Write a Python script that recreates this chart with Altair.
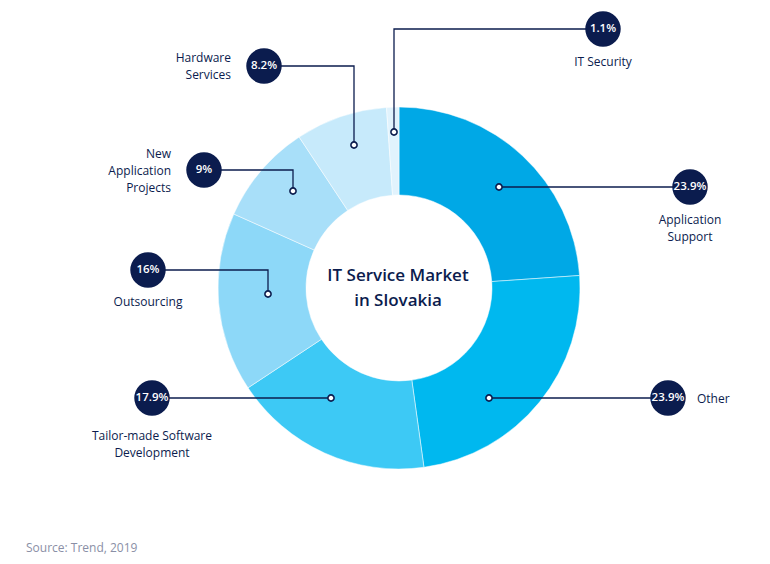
import altair as alt
import pandas as pd

# ---------------- data ----------------
categories = [
    "Application Support",
    "Other",
    "Tailor-made Software Development",
    "Outsourcing",
    "New Application Projects",
    "Hardware Services",
    "IT Security",
]
shares = [23.9, 23.9, 17.9, 16.0, 9.0, 8.2, 1.1]
pct_labels = ["23.9%", "23.9%", "17.9%", "16%", "9%", "8.2%", "1.1%"]
label_lines = [
    ["Application", "Support"],
    ["Other"],
    ["Tailor-made Software", "Development"],
    ["Outsourcing"],
    ["New", "Application", "Projects"],
    ["Hardware", "Services"],
    ["IT Security"],
]
colors = ["#00a8e6", "#00b8ef", "#3dc9f5", "#8dd8f8", "#a8dff9", "#c7eafb", "#e1f3fd"]
title_lines = ["IT Service Market", "in Slovakia"]
source_text = "Source: Trend, 2019"

# ---------------- layout (page pixel coordinates) ----------------
NAVY = "#0b1c4e"
FONT = "Open Sans"
CX, CY = 399, 288
R_OUT, R_IN = 181, 93
PAGE_W, PAGE_H, MARGIN = 770, 564, 8
W, H = PAGE_W - 2 * MARGIN, PAGE_H - 2 * MARGIN
LINE_H = 17

# dot, optional elbow, bubble centre, label anchor (x, y of first line, align)
callouts = {
    "Application Support": dict(path=[(499, 187), (690, 187)], bubble=(690, 187), label=(690, 220, "center")),
    "Other": dict(path=[(489, 398), (668, 398)], bubble=(668, 398), label=(697, 399, "left")),
    "Tailor-made Software Development": dict(path=[(331, 398), (152, 398)], bubble=(152, 398), label=(152, 436, "center")),
    "Outsourcing": dict(path=[(268, 294), (268, 270), (148, 270)], bubble=(148, 270), label=(148, 302, "center")),
    "New Application Projects": dict(path=[(293, 191), (293, 170), (204, 170)], bubble=(204, 170), label=(171, 154, "right")),
    "Hardware Services": dict(path=[(354, 145), (354, 66), (264, 66)], bubble=(264, 66), label=(231, 58, "right")),
    "IT Security": dict(path=[(394, 132), (394, 29), (603, 29)], bubble=(603, 29), label=(603, 62, "center")),
}

# ---------------- tables ----------------
slices = pd.DataFrame({"category": categories, "share": shares, "idx": range(len(categories))})

line_rows, dot_rows, bubble_rows, label_rows = [], [], [], []
for cat, pct, lines in zip(categories, pct_labels, label_lines):
    c = callouts[cat]
    for i, (px, py) in enumerate(c["path"]):
        line_rows.append({"category": cat, "seq": i, "x": px, "y": py})
    dot_rows.append({"category": cat, "x": c["path"][0][0], "y": c["path"][0][1]})
    bubble_rows.append({"category": cat, "x": c["bubble"][0], "y": c["bubble"][1], "pct": pct})
    lx, ly, al = c["label"]
    for j, t in enumerate(lines):
        label_rows.append({"text": t, "x": lx, "y": ly + j * LINE_H, "align": al})

lines_df = pd.DataFrame(line_rows)
dots_df = pd.DataFrame(dot_rows)
bubbles_df = pd.DataFrame(bubble_rows)
labels_df = pd.DataFrame(label_rows)
title_df = pd.DataFrame({"text": title_lines, "x": [CX - 1] * 2, "y": [276, 301]})
source_df = pd.DataFrame({"text": [source_text], "x": [26], "y": [548]})

xs = alt.Scale(domain=[MARGIN, MARGIN + W], nice=False, zero=False)
ys = alt.Scale(domain=[MARGIN, MARGIN + H], nice=False, zero=False, reverse=True)


def X():
    return alt.X("x:Q", scale=xs, axis=None)


def Y():
    return alt.Y("y:Q", scale=ys, axis=None)


donut = alt.Chart(slices).mark_arc(
    innerRadius=R_IN, outerRadius=R_OUT, x=CX - MARGIN, y=CY - MARGIN,
    stroke="white", strokeWidth=0.5,
).encode(
    theta=alt.Theta("share:Q", stack=True),
    color=alt.Color("category:N", scale=alt.Scale(domain=categories, range=colors), legend=None),
    order=alt.Order("idx:Q"),
)

leaders = alt.Chart(lines_df).mark_line(color=NAVY, strokeWidth=1.3).encode(
    x=X(), y=Y(), detail="category:N", order="seq:Q"
)

dots = alt.Chart(dots_df).mark_point(
    shape="circle", filled=True, fill="white", stroke=NAVY, strokeWidth=1.6, size=38, opacity=1
).encode(x=X(), y=Y())

bubbles = alt.Chart(bubbles_df).mark_circle(size=1257, color=NAVY, opacity=1).encode(x=X(), y=Y())

pct_text = alt.Chart(bubbles_df).mark_text(
    color="white", font=FONT, fontSize=11.5, fontWeight=600, baseline="middle", align="center"
).encode(x=X(), y=Y(), text="pct:N")

label_layers = []
for al in ["left", "center", "right"]:
    label_layers.append(
        alt.Chart(labels_df).transform_filter(alt.datum.align == al).mark_text(
            color=NAVY, font=FONT, fontSize=12, align=al, baseline="middle"
        ).encode(x=X(), y=Y(), text="text:N")
    )

title = alt.Chart(title_df).mark_text(
    color=NAVY, font=FONT, fontSize=17, fontWeight=600, align="center", baseline="middle"
).encode(x=X(), y=Y(), text="text:N")

source = alt.Chart(source_df).mark_text(
    color="#8a8fa6", font=FONT, fontSize=12, align="left", baseline="middle"
).encode(x=X(), y=Y(), text="text:N")

chart = alt.layer(
    donut, leaders, dots, bubbles, pct_text, *label_layers, title, source
).properties(width=W, height=H, padding=0, background="white").configure_view(stroke=None)

chart.save("out.html", embed_options={"renderer": "svg", "actions": False})
